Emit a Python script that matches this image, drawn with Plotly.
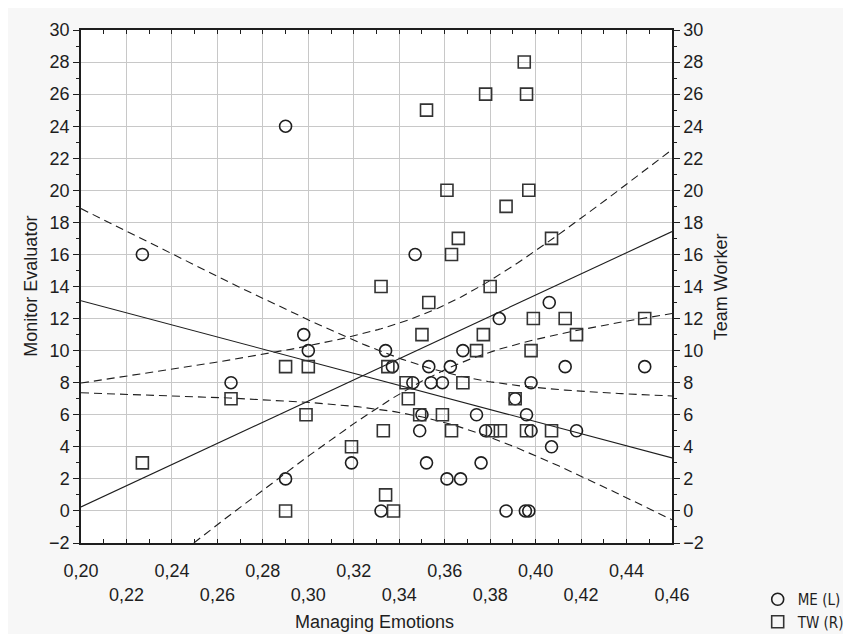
import numpy as np
import plotly.graph_objects as go

# ---------------- data ----------------
me_x = [0.227, 0.290, 0.266, 0.290, 0.298, 0.300, 0.319, 0.332, 0.334, 0.337,
        0.346, 0.347, 0.350, 0.349, 0.352, 0.353, 0.354, 0.359, 0.3625, 0.361,
        0.367, 0.368, 0.374, 0.376, 0.378, 0.384, 0.387, 0.391, 0.3955, 0.397,
        0.396, 0.398, 0.398, 0.406, 0.407, 0.413, 0.418, 0.448]
me_y = [16, 24, 8, 2, 11, 10, 3, 0, 10, 9,
        8, 16, 6, 5, 3, 9, 8, 8, 9, 2,
        2, 10, 6, 3, 5, 12, 0, 7, 0, 0,
        6, 8, 5, 13, 4, 9, 5, 9]

tw_x = [0.227, 0.266, 0.290, 0.290, 0.300, 0.299, 0.319, 0.332, 0.333, 0.334,
        0.3375, 0.335, 0.343, 0.344, 0.349, 0.350, 0.352, 0.353, 0.359, 0.361,
        0.363, 0.363, 0.366, 0.368, 0.374, 0.377, 0.378, 0.380, 0.381, 0.3845,
        0.387, 0.391, 0.395, 0.396, 0.396, 0.397, 0.398, 0.399, 0.407, 0.407,
        0.413, 0.418, 0.448]
tw_y = [3, 7, 0, 9, 9, 6, 4, 14, 5, 1,
        0, 9, 8, 7, 6, 11, 25, 13, 6, 20,
        16, 5, 17, 8, 10, 11, 26, 14, 5, 5,
        19, 7, 28, 26, 5, 20, 10, 12, 5, 17,
        12, 11, 12]

x_tick_vals = [0.20, 0.22, 0.24, 0.26, 0.28, 0.30, 0.32, 0.34, 0.36, 0.38,
               0.40, 0.42, 0.44, 0.46]
x_tick_text = ["0,20", "0,22", "0,24", "0,26", "0,28", "0,30", "0,32", "0,34",
               "0,36", "0,38", "0,40", "0,42", "0,44", "0,46"]
y_tick_vals = list(range(-2, 31, 2))

X_RANGE = [0.20, 0.46]
Y_RANGE = [-2, 30]


def fit_with_band(x, y, xs):
    x = np.asarray(x, float)
    y = np.asarray(y, float)
    n = len(x)
    b, a = np.polyfit(x, y, 1)
    resid = y - (a + b * x)
    s = np.sqrt(np.sum(resid ** 2) / (n - 2))
    sxx = np.sum((x - x.mean()) ** 2)
    t = 2.02
    fit = a + b * xs
    half = t * s * np.sqrt(1.0 / n + (xs - x.mean()) ** 2 / sxx)
    return fit, fit - half, fit + half


xs = np.linspace(X_RANGE[0], X_RANGE[1], 200)
me_fit, me_lo, me_hi = fit_with_band(me_x, me_y, xs)
tw_fit, tw_lo, tw_hi = fit_with_band(tw_x, tw_y, xs)

INK = "#1e1e1e"
FONT = "Liberation Sans, Arial, sans-serif"
NARROW = "Liberation Sans Narrow, DejaVu Sans Condensed, Liberation Sans, sans-serif"
DASH = "8px,5px"
FS = 18

fig = go.Figure()

# regression lines and 95% bands
for yy, dash, ax in [(me_fit, "solid", "y"), (me_lo, DASH, "y"), (me_hi, DASH, "y"),
                     (tw_fit, "solid", "y2"), (tw_lo, DASH, "y2"), (tw_hi, DASH, "y2")]:
    fig.add_trace(go.Scatter(x=xs, y=yy, mode="lines", yaxis=ax, showlegend=False,
                             hoverinfo="skip",
                             line=dict(color=INK, width=1.1, dash=dash)))

fig.add_trace(go.Scatter(x=me_x, y=me_y, mode="markers", name="ME (L)", yaxis="y",
                         marker=dict(symbol="circle-open", size=12, color=INK,
                                     line=dict(width=1.6, color=INK))))
fig.add_trace(go.Scatter(x=tw_x, y=tw_y, mode="markers", name="TW (R)", yaxis="y2",
                         marker=dict(symbol="square-open", size=12, color="#333",
                                     line=dict(width=1.6, color="#333"))))

grid = "#c8c8c8"
fig.update_layout(
    width=835, height=626,
    margin=dict(l=73, r=171, t=22, b=91, autoexpand=False),
    paper_bgcolor="#f7f7f7", plot_bgcolor="white",
    font=dict(family=FONT, size=FS, color=INK),
    xaxis=dict(range=X_RANGE, tickvals=x_tick_vals, automargin=False,
               ticktext=[t if i % 2 == 0 else "<br>" + t for i, t in enumerate(x_tick_text)],
               showgrid=True, gridcolor=grid, gridwidth=1,
               ticks="inside", ticklen=4, tickcolor=INK,
               showline=True, linecolor=INK, linewidth=1.5, mirror="allticks",
               zeroline=False, ticklabelstandoff=11,
               minor=dict(dtick=0.01, ticks="inside", ticklen=3, tickcolor=INK, showgrid=False)),
    yaxis=dict(range=Y_RANGE, tickvals=y_tick_vals, automargin=False,
               showgrid=True, gridcolor=grid, gridwidth=1,
               ticks="outside", ticklen=6, tickcolor=INK,
               showline=True, linecolor=INK, linewidth=1.5,
               zeroline=False,
               minor=dict(dtick=1, ticks="outside", ticklen=3, tickcolor=INK, showgrid=False)),
    yaxis2=dict(range=Y_RANGE, tickvals=y_tick_vals, overlaying="y", side="right",
                automargin=False,
                showgrid=False, ticks="outside", ticklen=6, tickcolor=INK,
                showline=True, linecolor=INK, linewidth=1.5, zeroline=False,
                minor=dict(dtick=1, ticks="outside", ticklen=3, tickcolor=INK)),
    legend=dict(x=1.145, y=-0.078, xanchor="left", yanchor="top",
                bgcolor="rgba(0,0,0,0)", font=dict(size=15, family=NARROW), itemwidth=30,
                tracegroupgap=0),
    annotations=[
        dict(text="Managing Emotions", xref="paper", yref="paper", x=0.497, y=-0.154,
             showarrow=False, xanchor="center", yanchor="middle", font=dict(size=FS)),
        dict(text="Monitor Evaluator", xref="paper", yref="paper", x=-0.086, y=0.5,
             showarrow=False, textangle=-90, xanchor="center", yanchor="middle",
             font=dict(size=FS)),
        dict(text="Team Worker", xref="paper", yref="paper", x=1.0824, y=0.5,
             showarrow=False, textangle=-90, xanchor="center", yanchor="middle",
             font=dict(size=FS)),
    ],
)

fig.write_html("out.html")
